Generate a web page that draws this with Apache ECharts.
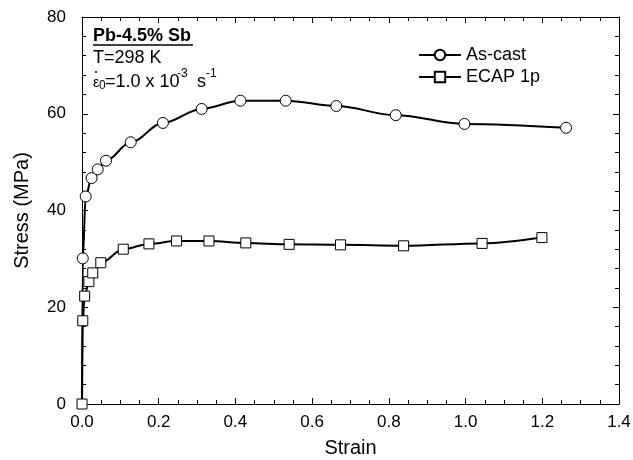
<!DOCTYPE html>
<html><head><meta charset="utf-8">
<script src="https://cdn.jsdelivr.net/npm/echarts@6/dist/echarts.min.js"></script>
<style>html,body{margin:0;padding:0;background:#fff}#c{width:633px;height:460px}</style>
</head><body><div id="c"></div>
<script>
const asCastStrain = [0, 0.002, 0.0096, 0.025, 0.041, 0.0625, 0.127, 0.211, 0.312, 0.413, 0.531, 0.663, 0.818, 0.997, 1.262];
const asCastStress = [0, 30.1, 42.9, 46.7, 48.5, 50.3, 54.1, 58.1, 61.0, 62.7, 62.7, 61.6, 59.7, 57.9, 57.1];
const ecapStrain = [0, 0.002, 0.007, 0.018, 0.028, 0.049, 0.1076, 0.1745, 0.2466, 0.331, 0.427, 0.54, 0.674, 0.8385, 1.043, 1.199];
const ecapStress = [0, 17.2, 22.3, 25.3, 27.1, 29.2, 32.0, 33.1, 33.7, 33.7, 33.3, 33.0, 32.9, 32.7, 33.2, 34.4];
const xRange = [0, 1.4], xStep = 0.2;
const yRange = [0, 80], yStep = 20;
const seriesNames = ['As-cast', 'ECAP 1p'];

const FONT = '"Liberation Sans", Arial, sans-serif';
const zip = (a, b) => a.map((v, i) => [v, b[i]]);
const black = '#000';

function xAx(pos, labels) {
  return {
    type: 'value', position: pos, min: xRange[0], max: xRange[1], interval: xStep,
    axisLine: { show: true, onZero: false, lineStyle: { color: black, width: 1 } },
    axisTick: { show: true, inside: true, length: 6, lineStyle: { color: black, width: 1 } },
    minorTick: { show: true, splitNumber: 4, length: 4, lineStyle: { color: black, width: 1 } },
    splitLine: { show: false },
    axisLabel: { show: labels, color: black, fontSize: 17, fontFamily: FONT, margin: 10, formatter: v => v.toFixed(1) },
    name: labels ? 'Strain' : '', nameLocation: 'middle', nameGap: 34,
    nameTextStyle: { fontSize: 20, color: black, fontFamily: FONT }
  };
}
function yAx(pos, labels) {
  return {
    type: 'value', position: pos, min: yRange[0], max: yRange[1], interval: yStep,
    axisLine: { show: true, onZero: false, lineStyle: { color: black, width: 1 } },
    axisTick: { show: true, inside: true, length: 6, lineStyle: { color: black, width: 1 } },
    minorTick: { show: true, splitNumber: 5, length: 4, lineStyle: { color: black, width: 1 } },
    splitLine: { show: false },
    axisLabel: { show: labels, color: black, fontSize: 17, fontFamily: FONT, margin: 16 },
    name: labels ? 'Stress (MPa)' : '', nameLocation: 'middle', nameGap: 50,
    nameTextStyle: { fontSize: 20, color: black, fontFamily: FONT }
  };
}

const chart = echarts.init(document.getElementById('c'), null, { renderer: 'canvas' });
const txt = (x, y, s, size, bold) => ({
  type: 'text', left: x, top: y,
  style: { text: s, fontSize: size, fontWeight: bold ? 'bold' : 'normal', fontFamily: FONT, fill: black }
});
chart.setOption({
  animation: false,
  backgroundColor: '#fff',
  grid: { left: 82, right: 14, top: 17, bottom: 56, outerBoundsMode: 'none', containLabel: false },
  xAxis: [xAx('bottom', true), xAx('top', false)],
  yAxis: [yAx('left', true), yAx('right', false)],
  legend: {
    orient: 'vertical', left: 413, top: 40, itemWidth: 42, itemHeight: 13, itemGap: 2,
    textStyle: { fontSize: 18, fontFamily: FONT, color: black, lineHeight: 20 },
    data: seriesNames
  },
  series: [
    {
      name: seriesNames[0], type: 'line', xAxisIndex: 0, yAxisIndex: 0,
      data: zip(asCastStrain, asCastStress), smooth: 0.35, smoothMonotone: 'x',
      symbol: (v, p) => (p.dataIndex === 0 ? 'none' : 'circle'), symbolSize: 11,
      lineStyle: { color: black, width: 2 },
      itemStyle: { color: '#fff', borderColor: black, borderWidth: 1 }
    },
    {
      name: seriesNames[1], type: 'line', xAxisIndex: 0, yAxisIndex: 0,
      data: zip(ecapStrain, ecapStress), smooth: 0.35, smoothMonotone: 'x',
      symbol: 'rect', symbolSize: 10,
      lineStyle: { color: black, width: 2 },
      itemStyle: { color: '#fff', borderColor: black, borderWidth: 1 }
    }
  ],
  graphic: [
    txt(93, 27, 'Pb-4.5% Sb', 18, true),
    { type: 'line', shape: { x1: 93, y1: 45, x2: 193, y2: 45 }, style: { stroke: black, lineWidth: 1.5 } },
    txt(93, 49, 'T=298 K', 18, false),
    txt(93, 76, '\u03b5', 14, false),
    { type: 'circle', shape: { cx: 96, cy: 72, r: 1 }, style: { fill: black } },
    txt(99, 80, '0', 12, false),
    txt(105, 73, '=1.0 x 10', 18, false),
    txt(177, 68, '-3', 12, false),
    txt(197, 73, 's', 18, false),
    txt(206, 68, '-1', 12, false)
  ]
});
</script>
</body></html>
